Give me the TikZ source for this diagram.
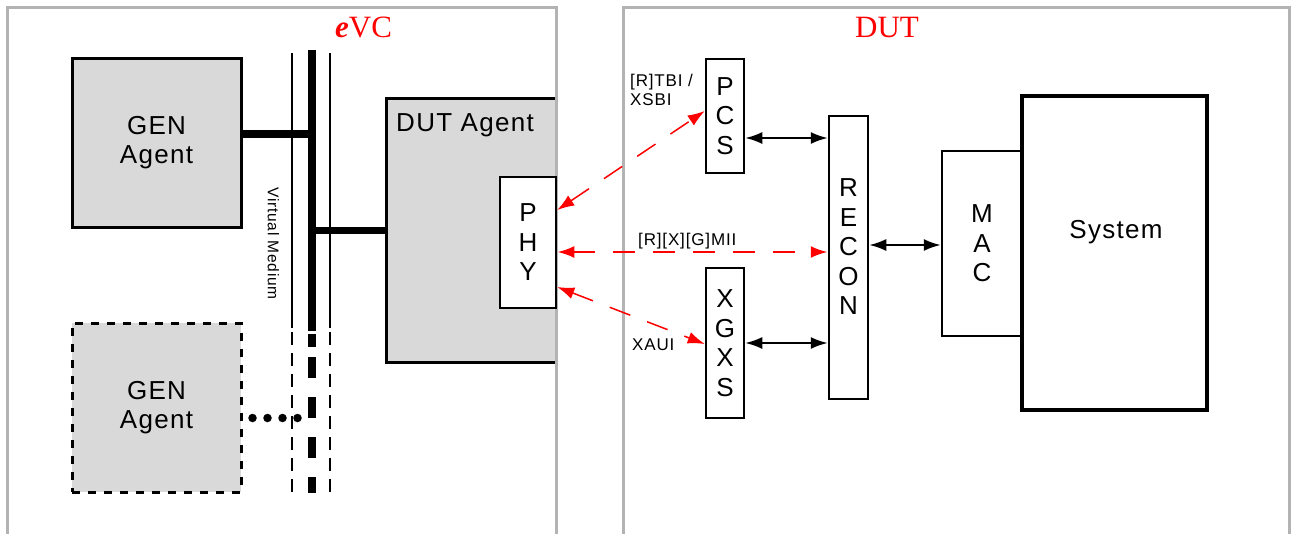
\documentclass[tikz,border=0pt]{standalone}
\usepackage{fontspec}
\setmainfont{Liberation Sans}[LetterSpace=5]
\newfontfamily\titlefont{Liberation Serif}
\usetikzlibrary{arrows.meta,calc}
\definecolor{panelgray}{HTML}{B3B3B3}
\definecolor{boxgray}{HTML}{D9D9D9}
\newcommand\boxfont{\fontsize{26}{29.5}\selectfont}
\newcommand\smallfont{\fontsize{17}{18.5}\selectfont}
\tikzset{
  panel/.style={draw=panelgray,line width=3pt},
  box/.style={draw,line width=2.5pt,inner sep=0pt,align=center,font=\boxfont},
  agent/.style={box,fill=boxgray,line width=3pt},
  lbl/.style={inner sep=0pt,font=\smallfont,align=left},
  barrow/.style={line width=2pt,{Latex[length=17pt,width=12pt]}-{Latex[length=17pt,width=12pt]}},
  rarrow/.style={red,line width=1.5pt,dash pattern=on 22pt off 18pt,{Latex[length=17pt,width=12pt]}-{Latex[length=17pt,width=12pt]}},
  dots/.style={line width=8.5pt,line cap=round,dash pattern=on 0pt off 15pt},
  title/.style={text=red,inner sep=0pt,anchor=base west,font=\titlefont\fontsize{31}{31}\selectfont}
}
\begin{document}
\begin{tikzpicture}[x=1pt,y=-1pt]
\useasboundingbox (0,0) rectangle (1292,533);
% DUT agent (under panel line)
\node[agent,minimum width=170pt,minimum height=264pt] (dutag) at (471,230) {};
% panels
\draw[panel] (7,545) -- (7,7) -- (556,7) -- (556,545);
\draw[panel] (623,545) -- (623,7) -- (1289,7) -- (1289,545);
% titles
\node[title] (evc) at (335,37) {{\bfseries\itshape e}VC};
\node[title] (dut) at (855,37) {DUT};
% agents
\node[agent,minimum width=169pt,minimum height=169pt] (gen1) at (156.5,142.5) {GEN\\Agent};
\node[agent,dash pattern=on 8pt off 8pt,minimum width=169pt,minimum height=169pt] (gen2) at (156.5,407.5) {GEN\\Agent};
\node[inner sep=0pt,anchor=base west,font=\boxfont] (dutlab) at (396,131) {DUT Agent};
\node[box,fill=white,minimum width=56pt,minimum height=131pt] (phy) at (528,242.5) {P\\H\\Y};
% virtual medium bus
\coordinate (bt) at (312,50);
\coordinate (bb) at (312,331);
\draw[line width=8pt] (bt) -- (bb);
\draw[line width=2pt] (292,53) -- (292,328);
\draw[line width=2pt] (330,53) -- (330,328);
\draw[line width=8pt,dash pattern=on 13pt off 10pt on 21pt off 19pt on 21pt off 19pt on 21pt off 19pt on 21pt off 40pt] (312,334) -- (312,493);
\draw[line width=2pt,dash pattern=on 13pt off 8pt] (292,332) -- (292,497);
\draw[line width=2pt,dash pattern=on 13pt off 8pt] (330,332) -- (330,497);
\node[rotate=-90,inner sep=0pt,font=\fontsize{15.5}{17}\selectfont] (vm) at (273.5,243.5) {Virtual Medium};
% agent connections
\coordinate (g1c) at ([yshift=8.5pt]gen1.east);
\draw[line width=8pt] (g1c) -- (g1c -| bt);
\draw[line width=7pt] (dutag.west) -- (dutag.west -| bt);
\coordinate (g2c) at ([xshift=10pt,yshift=-10.5pt]gen2.east);
\draw[dots] (g2c) -- (g2c -| bt);
% DUT blocks
\node[box,minimum width=38pt,minimum height=114pt] (pcs) at (725,116) {P\\C\\S};
\node[box,minimum width=38pt,minimum height=150pt] (xgxs) at (725,343) {X\\G\\X\\S};
\node[box,minimum width=39pt,minimum height=283pt] (recon) at (848.5,257.5) {};
\node[inner sep=0pt,align=center,font=\boxfont] (recontxt) at (848.5,247) {R\\E\\C\\O\\N};
\node[box,minimum width=80pt,minimum height=185pt] (mac) at (982,243.5) {M\\A\\C};
\node[box,line width=3.5pt,minimum width=185pt,minimum height=314pt] (sys) at (1114.5,253) {};
\node[inner sep=0pt,font=\boxfont] (systxt) at (1116,232) {System};
% black arrows
\coordinate (a1) at ([yshift=-22pt]pcs.east);
\draw[barrow] (a1) -- (a1 -| recon.west);
\draw[barrow] (xgxs.east) -- (xgxs.east -| recon.west);
\coordinate (a3) at ([yshift=12.5pt]recon.east);
\draw[barrow] (a3) -- (a3 -| mac.west);
% red interface arrows
\coordinate (p1) at ([yshift=32.5pt]phy.east);
\coordinate (q1) at ([yshift=5pt]pcs.west);
\draw[rarrow] (p1) -- (q1);
\coordinate (p2) at ([yshift=-9.5pt]phy.east);
\draw[rarrow,line width=2.5pt] (p2) -- (p2 -| recon.west);
\coordinate (p3) at ([yshift=-44.5pt]phy.east);
\coordinate (q3) at ([yshift=-1pt]xgxs.west);
\draw[rarrow] (p3) -- (q3);
% labels
\node[lbl,anchor=base west] (tbi) at (630,105) {[R]TBI /\\XSBI};
\node[lbl,anchor=base west] (mii) at (638,245) {[R][X][G]MII};
\node[lbl,anchor=base west] (xaui) at (632,350) {XAUI};
\end{tikzpicture}
\end{document}
